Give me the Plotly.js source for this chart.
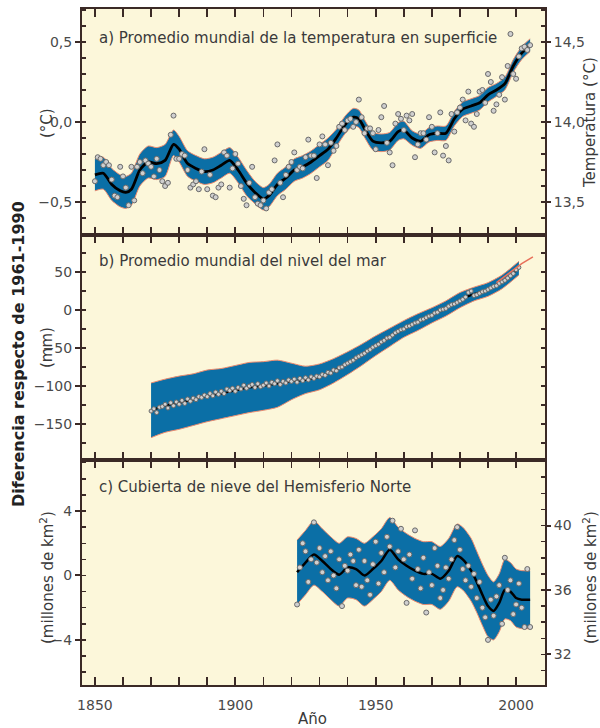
<!DOCTYPE html>
<html>
<head>
<meta charset="utf-8">
<script src="https://cdn.plot.ly/plotly-3.0.1.min.js"></script>
<style>html,body{margin:0;padding:0;background:#fff;}#chart{width:600px;height:728px;}</style>
</head>
<body>
<div id="chart"></div>
<script>
// ---------- Panel a: global mean surface temperature (anomaly, °C) ----------
const tempYears = [];
for (let y = 1850; y <= 2005; y++) tempYears.push(y);
const tempAnnual = [
 -0.37,-0.22,-0.23,-0.27,-0.25,-0.27,-0.36,-0.46,-0.47,-0.28,
 -0.34,-0.41,-0.52,-0.28,-0.49,-0.28,-0.25,-0.32,-0.24,-0.26,
 -0.28,-0.34,-0.23,-0.30,-0.37,-0.40,-0.38,-0.08,0.04,-0.23,
 -0.23,-0.20,-0.21,-0.30,-0.41,-0.39,-0.37,-0.42,-0.31,-0.17,
 -0.42,-0.33,-0.46,-0.47,-0.41,-0.39,-0.19,-0.21,-0.41,-0.29,
 -0.20,-0.26,-0.40,-0.48,-0.52,-0.38,-0.28,-0.47,-0.51,-0.52,
 -0.49,-0.54,-0.44,-0.42,-0.24,-0.14,-0.38,-0.47,-0.33,-0.28,
 -0.25,-0.19,-0.30,-0.28,-0.29,-0.22,-0.11,-0.21,-0.21,-0.35,
 -0.14,-0.09,-0.14,-0.27,-0.13,-0.18,-0.15,-0.03,-0.01,-0.05,
 0.01,0.02,-0.03,0.00,0.14,0.03,-0.07,-0.04,-0.04,-0.07,
 -0.17,-0.05,0.03,0.10,-0.13,-0.19,-0.27,-0.01,0.05,0.02,
 -0.05,0.04,0.01,0.05,-0.22,-0.14,-0.07,-0.07,-0.11,0.03,
 -0.03,-0.19,-0.07,0.06,-0.21,-0.15,-0.24,0.05,-0.06,0.06,
 0.09,0.14,0.01,0.19,-0.01,-0.03,0.05,0.19,0.20,0.12,
 0.30,0.25,0.07,0.11,0.17,0.28,0.14,0.35,0.55,0.30,
 0.27,0.41,0.46,0.47,0.45,0.48
];
const tempSmoothYears = [1850,1853,1856,1859,1861,1863,1866,1869,1872,1875,
 1878,1880,1883,1886,1889,1892,1895,1898,1901,1904,
 1907,1910,1912,1915,1918,1921,1924,1927,1930,1933,
 1936,1939,1942,1944,1946,1949,1952,1955,1958,1960,
 1963,1966,1969,1972,1975,1978,1981,1984,1987,1990,
 1993,1996,1999,2002,2005];
const tempSmooth = [-0.33,-0.32,-0.39,-0.43,-0.44,-0.42,-0.30,-0.25,-0.26,-0.24,
 -0.14,-0.17,-0.26,-0.29,-0.31,-0.30,-0.27,-0.24,-0.30,-0.38,
 -0.44,-0.48,-0.46,-0.39,-0.35,-0.30,-0.28,-0.25,-0.21,-0.17,
 -0.10,-0.02,0.03,0.02,-0.04,-0.12,-0.13,-0.12,-0.06,-0.05,
 -0.10,-0.12,-0.08,-0.07,-0.07,0.02,0.08,0.10,0.12,0.17,
 0.20,0.24,0.35,0.43,0.48];
const tempUpper = [-0.23,-0.22,-0.29,-0.33,-0.34,-0.32,-0.20,-0.15,-0.16,-0.14,
 -0.05,-0.09,-0.18,-0.21,-0.23,-0.22,-0.19,-0.16,-0.22,-0.30,
 -0.37,-0.41,-0.39,-0.32,-0.28,-0.23,-0.21,-0.18,-0.14,-0.10,
 -0.045,0.035,0.085,0.075,0.015,-0.065,-0.075,-0.065,-0.005,0.005,
 -0.055,-0.075,-0.035,-0.025,-0.025,0.065,0.125,0.145,0.165,0.215,
 0.24,0.28,0.39,0.47,0.52];
const tempLower = [-0.43,-0.42,-0.49,-0.53,-0.54,-0.52,-0.40,-0.35,-0.36,-0.34,
 -0.21,-0.25,-0.34,-0.37,-0.39,-0.38,-0.35,-0.32,-0.38,-0.46,
 -0.51,-0.55,-0.53,-0.46,-0.42,-0.37,-0.35,-0.32,-0.28,-0.24,
 -0.155,-0.075,-0.025,-0.035,-0.095,-0.175,-0.185,-0.175,-0.115,-0.105,
 -0.145,-0.165,-0.125,-0.115,-0.115,-0.025,0.035,0.055,0.075,0.125,
 0.16,0.20,0.31,0.39,0.44];

// ---------- Panel b: global mean sea level (mm) ----------
const seaYears = [];
for (let y = 1870; y <= 2001; y++) seaYears.push(y);
const seaAnnual = [
 -133,-130,-135,-128,-127,-124,-129,-122,-126,-121,
 -124,-119,-123,-117,-120,-116,-118,-114,-115,-112,
 -114,-110,-113,-108,-111,-107,-110,-104,-106,-103,
 -107,-102,-104,-99,-103,-100,-98,-102,-97,-101,
 -99,-96,-100,-95,-97,-93,-98,-94,-96,-92,
 -94,-91,-95,-90,-93,-89,-92,-88,-90,-87,
 -88,-85,-86,-82,-83,-79,-80,-76,-75,-72,
 -70,-68,-66,-63,-61,-59,-57,-54,-52,-49,
 -47,-45,-42,-40,-37,-36,-33,-30,-28,-26,
 -25,-22,-21,-19,-17,-16,-13,-12,-10,-8,
 -7,-4,-3,0,1,2,5,7,8,10,
 12,14,17,23,25,19,20,22,24,25,
 27,29,31,32,35,37,39,42,45,48,
 53,56
];
const seaSmoothYears = [1870,1875,1880,1885,1890,1895,1900,1905,1910,1915,1920,1925,1930,1935,1940,1945,1950,1955,1960,1965,1970,1975,1980,1985,1990,1995,2001];
const seaSmooth = [-132,-126,-122,-118,-113,-110,-106,-102,-100,-97,-94,-92,-88,-80,-70,-59,-47,-36,-25,-16,-7,2,13,21,27,37,55];
const seaUpper  = [-96,-91,-87,-84,-79,-77,-73,-69,-68,-66,-70,-74,-71,-64,-55,-45,-34,-24,-14,-5,3,12,23,30,36,46,64];
const seaLower  = [-168,-161,-157,-152,-147,-143,-139,-135,-132,-128,-118,-110,-105,-96,-85,-73,-60,-48,-36,-27,-17,-8,3,12,18,28,46];
const satYears = [1993,1996,1999,2002,2006];
const satLevel = [36,44,53,61,70];

// ---------- Panel c: Northern Hemisphere snow cover (million km²) ----------
const snowYears = [];
for (let y = 1922; y <= 2005; y++) snowYears.push(y);
const snowAnnual = [
 -1.8,0.5,2.0,1.5,-0.4,1.0,3.3,0.8,1.7,0.2,
 1.2,-0.3,1.5,0.0,-0.8,1.0,-1.9,0.6,0.3,1.3,
 0.9,-0.6,1.6,-0.7,0.9,-0.3,-1.2,0.7,2.1,-0.5,
 1.4,0.2,2.4,1.8,3.4,0.5,1.5,2.9,1.0,-1.7,
 1.3,-0.2,2.8,0.4,-0.8,1.1,-2.3,0.2,-0.6,1.7,
 0.6,-1.4,-0.9,0.5,-0.2,1.0,2.2,3.0,1.6,0.4,
 -0.3,0.6,-0.7,0.1,-1.4,-0.4,-2.0,-2.6,-4.0,-1.5,
 -2.5,-1.3,-0.6,-3.0,1.1,-0.9,-0.3,-2.4,-1.8,-0.5,
 -2.0,-3.2,0.4,-3.2
];
const snowSmoothYears = [1922,1925,1928,1931,1934,1937,1940,1943,1946,1949,1952,1955,1958,1961,1964,1967,1970,1973,1976,1979,1981,1984,1986,1988,1990,1992,1994,1996,1998,2000,2002,2005];
const snowSmooth = [0.2,0.8,1.3,0.9,0.4,0.05,0.5,0.4,0.0,0.4,0.9,1.6,1.0,0.6,0.3,0.1,0.1,-0.2,0.3,1.2,1.0,0.3,-0.4,-1.2,-1.9,-2.2,-1.7,-0.9,-1.0,-1.4,-1.5,-1.5];
const snowUpper  = [2.2,2.8,3.4,2.9,2.4,2.0,2.4,2.3,2.0,2.4,2.9,3.6,3.0,2.6,2.3,2.1,2.1,1.8,2.3,3.2,3.0,2.3,1.5,0.7,0.0,-0.4,0.1,1.0,0.8,0.4,0.3,0.3];
const snowLower  = [-1.8,-1.2,-0.6,-1.0,-1.5,-1.9,-1.4,-1.5,-1.9,-1.5,-1.0,-0.3,-0.9,-1.3,-1.6,-1.8,-1.8,-2.1,-1.6,-0.7,-0.9,-1.6,-2.3,-3.1,-3.8,-4.0,-3.5,-2.7,-2.8,-3.2,-3.3,-3.3];

// ---------- styling ----------
const BAND = '#0b6fa6', EDGE = '#ec8a6e', BG = '#fcf7da', AX = '#3b2a26';
const FONT = 'DejaVu Sans, Liberation Sans, Arial, sans-serif';
const ptMarker = (s) => ({size: s, color: '#cfcfcf', line: {color: '#6a6a6a', width: 1}});

function panel(xa, ya, yrs, lo, hi, sy, sm, py, pv, ms, lw) {
  return [
    {x: yrs, y: lo, xaxis: xa, yaxis: ya, mode: 'lines', line: {color: EDGE, width: 1, shape: 'spline', smoothing: 0.7}, hoverinfo: 'skip'},
    {x: yrs, y: hi, xaxis: xa, yaxis: ya, mode: 'lines', fill: 'tonexty', fillcolor: BAND, line: {color: EDGE, width: 1, shape: 'spline', smoothing: 0.7}, hoverinfo: 'skip'},
    {x: sy, y: sm, xaxis: xa, yaxis: ya, mode: 'lines', line: {color: '#000', width: lw, shape: 'spline', smoothing: 0.7}},
    {x: py, y: pv, xaxis: xa, yaxis: ya, mode: 'markers', marker: ptMarker(ms)}
  ];
}

const data = [].concat(
  panel('x', 'y', tempSmoothYears, tempLower, tempUpper, tempSmoothYears, tempSmooth, tempYears, tempAnnual, 5, 2.8),
  panel('x2', 'y2', seaSmoothYears, seaLower, seaUpper, seaSmoothYears, seaSmooth, seaYears, seaAnnual, 4, 2),
  [{x: satYears, y: satLevel, xaxis: 'x2', yaxis: 'y2', mode: 'lines', line: {color: '#e8705a', width: 1.5}}],
  panel('x3', 'y3', snowSmoothYears, snowLower, snowUpper, snowSmoothYears, snowSmooth, snowYears, snowAnnual, 5, 2.5),
  [{x: [], y: [], xaxis: 'x', yaxis: 'y4'}, {x: [], y: [], xaxis: 'x3', yaxis: 'y5'}, {x: [], y: [], xaxis: 'x2', yaxis: 'y6'}]
);

const L = 82, R = 545, T = 9, B = 685;
const px = v => (v - L) / (R - L);
const py = v => (B - v) / (B - T);

const tickFont = {family: FONT, size: 14, color: '#4a4a4a'};
function xax(anchor, labels) {
  return {anchor: anchor, range: [1845.4, 2010.3], tickmode: 'linear', tick0: 1850, dtick: 50,
    ticks: 'inside', ticklen: 8, tickwidth: 2, tickcolor: AX, showticklabels: labels, tickfont: tickFont,
    ticklabelstandoff: 6,
    minor: {dtick: 10, tick0: 1850, ticks: 'inside', ticklen: 5, tickwidth: 1.5, tickcolor: AX},
    showline: true, linecolor: AX, linewidth: 2, mirror: 'allticks', showgrid: false, zeroline: false, fixedrange: true};
}
function yax(dom, range, vals, minorStep, side, overlay, fmt) {
  const o = {domain: dom, range: range, tickmode: 'array', tickvals: vals, tickformat: fmt,
    ticks: 'outside', ticklen: 5, tickwidth: 2, tickcolor: AX, tickfont: tickFont,
    minor: {dtick: minorStep, tick0: 0, ticks: 'inside', ticklen: 4, tickwidth: 1.5, tickcolor: AX},
    showline: true, linecolor: AX, linewidth: 2, showgrid: false, zeroline: false, fixedrange: true, side: side};
  if (overlay) o.overlaying = overlay;
  return o;
}

const dA = [py(235), 1], dB = [py(460), py(235)], dC = [0, py(460)];
const labFont = {family: FONT, size: 15, color: '#3a3a3a'};

function ann(text, x, y, opts) {
  return Object.assign({text: text, xref: 'paper', yref: 'paper', x: px(x), y: py(y), showarrow: false, font: labFont}, opts || {});
}

const layout = {
  width: 600, height: 728,
  margin: {l: L, r: 600 - R, t: T, b: 728 - B, pad: 0},
  paper_bgcolor: '#ffffff', plot_bgcolor: BG,
  showlegend: false, separators: ',.',
  xaxis: xax('y', false),
  xaxis2: xax('y2', false),
  xaxis3: xax('y3', true),
  yaxis: yax(dA, [-0.706, 0.706], [-0.5, 0, 0.5], 0.1, 'left', null, '.1f'),
  yaxis2: yax(dB, [-197.4, 98.7], [-150, -100, -50, 0, 50], 25, 'left', null, 'd'),
  yaxis3: yax(dC, [-6.8, 7.17], [-4, 0, 4], 1, 'left', null, 'd'),
  yaxis4: Object.assign(yax(dA, [13.294, 14.706], [13.5, 14.0, 14.5], 0.1, 'right', 'y', '.1f'), {anchor: 'x', ticklen: 4}),
  yaxis5: Object.assign(yax(dC, [30.1, 44.07], [32, 36, 40], 1, 'right', 'y3', 'd'), {anchor: 'x3', ticklen: 4}),
  yaxis6: Object.assign(yax(dB, [-197.4, 98.7], [], 25, 'right', 'y2', 'd'), {anchor: 'x2', showticklabels: false}),
  annotations: [
    ann('a) Promedio mundial de la temperatura en superficie', 97, 38, {xanchor: 'left', yanchor: 'middle'}),
    ann('b) Promedio mundial del nivel del mar', 97, 261, {xanchor: 'left', yanchor: 'middle'}),
    ann('c) Cubierta de nieve del Hemisferio Norte', 97, 487, {xanchor: 'left', yanchor: 'middle'}),
    ann('(°C)', 47, 123, {textangle: -90, xanchor: 'center', yanchor: 'middle'}),
    ann('(mm)', 47, 348, {textangle: -90, xanchor: 'center', yanchor: 'middle'}),
    ann('(millones de km<sup>2</sup>)', 47, 578, {textangle: -90, xanchor: 'center', yanchor: 'middle'}),
    ann('<b>Diferencia respecto de 1961-1990</b>', 18, 354, {textangle: -90, xanchor: 'center', yanchor: 'middle', font: {family: FONT, size: 16, color: '#222'}}),
    ann('Temperatura (°C)', 590, 123, {textangle: -90, xanchor: 'center', yanchor: 'middle'}),
    ann('(millones de km<sup>2</sup>)', 590, 578, {textangle: -90, xanchor: 'center', yanchor: 'middle'}),
    ann('Año', 312, 719, {xanchor: 'center', yanchor: 'middle'})
  ]
};

Plotly.newPlot('chart', data, layout, {displayModeBar: false, staticPlot: true});
</script>
</body>
</html>
